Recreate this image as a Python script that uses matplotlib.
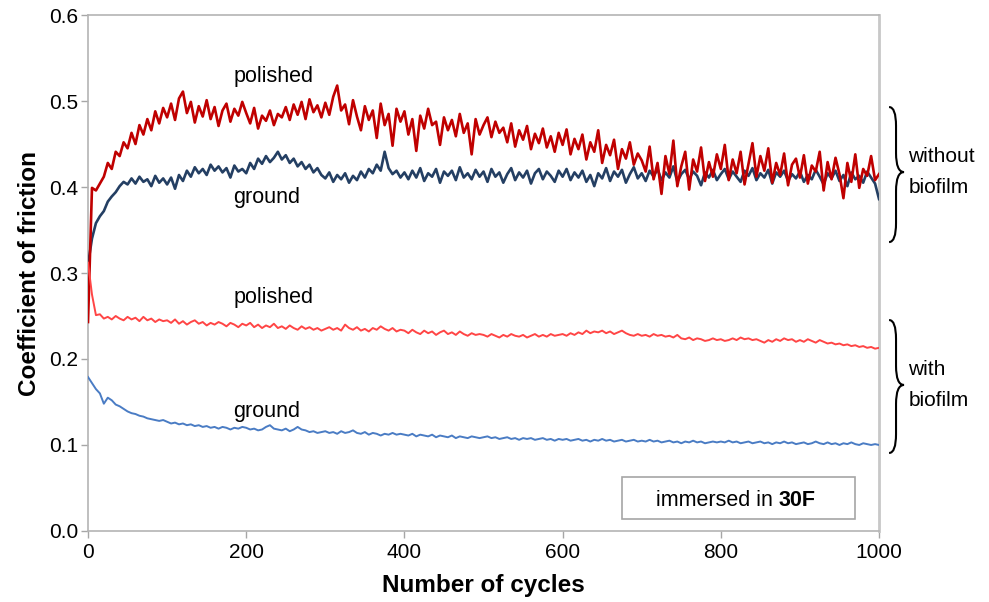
import numpy as np
import matplotlib
matplotlib.use('Agg')
import matplotlib.pyplot as plt
from matplotlib.path import Path
from matplotlib.patches import PathPatch, Rectangle
import matplotlib.transforms as mtransforms

plt.rcParams['font.family'] = ['Liberation Sans', 'DejaVu Sans']

# cycle number of every reading (step 5)
cycles = np.arange(0, 1001, 5)

# polished, without biofilm (dark red)
cof_polished_dry = [
    0.243, 0.399, 0.396, 0.404, 0.412, 0.428, 0.421, 0.441, 0.436, 0.452, 0.445, 0.463, 0.450, 0.472, 0.461, 0.479, 0.466, 0.488, 0.474, 0.492,
    0.481, 0.497, 0.478, 0.503, 0.511, 0.486, 0.499, 0.475, 0.494, 0.482, 0.501, 0.479, 0.493, 0.471, 0.489, 0.497, 0.476, 0.491, 0.483, 0.499,
    0.486, 0.474, 0.492, 0.468, 0.483, 0.477, 0.489, 0.472, 0.485, 0.481, 0.493, 0.478, 0.496, 0.484, 0.499, 0.479, 0.502, 0.487, 0.495, 0.481,
    0.498, 0.484, 0.505, 0.518, 0.489, 0.496, 0.473, 0.501, 0.482, 0.466, 0.494, 0.478, 0.489, 0.457, 0.497, 0.472, 0.485, 0.448, 0.491, 0.476,
    0.488, 0.461, 0.479, 0.442, 0.483, 0.468, 0.491, 0.472, 0.476, 0.449, 0.481, 0.466, 0.478, 0.459, 0.485, 0.463, 0.474, 0.438, 0.479, 0.461,
    0.472, 0.481, 0.458, 0.476, 0.463, 0.469, 0.452, 0.474, 0.447, 0.466, 0.455, 0.471, 0.444, 0.462, 0.451, 0.468, 0.446, 0.459, 0.441, 0.463,
    0.449, 0.467, 0.438, 0.456, 0.444, 0.461, 0.432, 0.452, 0.441, 0.466, 0.428, 0.449, 0.437, 0.455, 0.421, 0.444, 0.433, 0.452, 0.426, 0.439,
    0.431, 0.418, 0.447, 0.409, 0.428, 0.392, 0.436, 0.415, 0.454, 0.401, 0.424, 0.441, 0.397, 0.432, 0.418, 0.446, 0.407, 0.429, 0.412, 0.438,
    0.421, 0.449, 0.408, 0.432, 0.416, 0.441, 0.403, 0.427, 0.451, 0.412, 0.436, 0.419, 0.445, 0.405, 0.428, 0.414, 0.439, 0.402, 0.426, 0.433,
    0.411, 0.437, 0.404, 0.425, 0.418, 0.441, 0.396, 0.429, 0.409, 0.434, 0.415, 0.387, 0.428, 0.406, 0.438, 0.399, 0.421, 0.413, 0.436, 0.408, 0.415,
]

# ground, without biofilm (navy)
cof_ground_dry = [
    0.310, 0.340, 0.358, 0.366, 0.372, 0.383, 0.389, 0.394, 0.401, 0.406, 0.403, 0.410, 0.404, 0.412, 0.406, 0.409, 0.401, 0.413, 0.405, 0.410,
    0.403, 0.411, 0.398, 0.414, 0.407, 0.419, 0.412, 0.423, 0.416, 0.421, 0.414, 0.426, 0.419, 0.424, 0.417, 0.422, 0.411, 0.425, 0.418, 0.421,
    0.416, 0.428, 0.421, 0.433, 0.427, 0.436, 0.429, 0.434, 0.441, 0.432, 0.437, 0.428, 0.433, 0.424, 0.429, 0.421, 0.426, 0.417, 0.422, 0.414,
    0.410, 0.417, 0.406, 0.414, 0.409, 0.416, 0.405, 0.413, 0.408, 0.418, 0.411, 0.421, 0.416, 0.426, 0.419, 0.441, 0.422, 0.415, 0.419, 0.411,
    0.417, 0.409, 0.419, 0.411, 0.422, 0.407, 0.416, 0.412, 0.421, 0.405, 0.418, 0.413, 0.419, 0.408, 0.423, 0.411, 0.416, 0.409, 0.420, 0.412,
    0.418, 0.406, 0.421, 0.412, 0.417, 0.405, 0.415, 0.422, 0.408, 0.417, 0.411, 0.419, 0.404, 0.416, 0.421, 0.409, 0.418, 0.413, 0.406, 0.419,
    0.412, 0.421, 0.408, 0.417, 0.411, 0.419, 0.406, 0.414, 0.401, 0.416, 0.410, 0.422, 0.407, 0.418, 0.412, 0.420, 0.405, 0.415, 0.423, 0.410,
    0.416, 0.407, 0.419, 0.412, 0.421, 0.408, 0.417, 0.411, 0.424, 0.406, 0.415, 0.420, 0.409, 0.418, 0.413, 0.402, 0.417, 0.411, 0.420, 0.408,
    0.415, 0.421, 0.409, 0.418, 0.412, 0.406, 0.419, 0.413, 0.422, 0.408, 0.416, 0.411, 0.420, 0.404, 0.417, 0.412, 0.419, 0.407, 0.415, 0.410,
    0.418, 0.406, 0.414, 0.409, 0.420, 0.412, 0.403, 0.416, 0.410, 0.419, 0.407, 0.414, 0.401, 0.417, 0.409, 0.413, 0.405, 0.418, 0.411, 0.404, 0.386,
]

# polished, with biofilm (light red)
cof_polished_bio = [
    0.312, 0.275, 0.251, 0.252, 0.247, 0.249, 0.246, 0.250, 0.247, 0.245, 0.249, 0.246, 0.248, 0.244, 0.249, 0.245, 0.247, 0.243, 0.246, 0.244,
    0.245, 0.242, 0.246, 0.241, 0.244, 0.240, 0.243, 0.245, 0.241, 0.243, 0.239, 0.242, 0.240, 0.243, 0.241, 0.238, 0.242, 0.240, 0.237, 0.241,
    0.239, 0.242, 0.237, 0.240, 0.236, 0.239, 0.237, 0.241, 0.236, 0.238, 0.235, 0.239, 0.236, 0.234, 0.238, 0.235, 0.237, 0.234, 0.236, 0.233,
    0.235, 0.237, 0.234, 0.236, 0.233, 0.240, 0.236, 0.234, 0.237, 0.233, 0.235, 0.232, 0.236, 0.234, 0.238, 0.235, 0.233, 0.236, 0.232, 0.234,
    0.233, 0.230, 0.234, 0.231, 0.229, 0.233, 0.230, 0.232, 0.228, 0.231, 0.233, 0.229, 0.231, 0.228, 0.232, 0.229, 0.227, 0.230, 0.228, 0.229,
    0.228, 0.226, 0.229, 0.227, 0.225, 0.228, 0.226, 0.229, 0.227, 0.226, 0.228, 0.225, 0.227, 0.229, 0.226, 0.228, 0.226, 0.229, 0.227, 0.228,
    0.229, 0.227, 0.230, 0.228, 0.231, 0.229, 0.233, 0.230, 0.232, 0.231, 0.233, 0.230, 0.232, 0.229, 0.231, 0.233, 0.230, 0.228, 0.227, 0.229,
    0.227, 0.228, 0.226, 0.229, 0.227, 0.228, 0.226, 0.227, 0.225, 0.228, 0.224, 0.223, 0.225, 0.222, 0.224, 0.223, 0.221, 0.222, 0.224, 0.222,
    0.223, 0.221, 0.222, 0.224, 0.222, 0.225, 0.223, 0.224, 0.222, 0.223, 0.221, 0.219, 0.222, 0.220, 0.223, 0.221, 0.224, 0.222, 0.223, 0.220,
    0.222, 0.220, 0.223, 0.221, 0.219, 0.222, 0.220, 0.218, 0.219, 0.217, 0.218, 0.216, 0.217, 0.215, 0.216, 0.214, 0.215, 0.213, 0.214, 0.212, 0.213,
]

# ground, with biofilm (blue)
cof_ground_bio = [
    0.179, 0.172, 0.165, 0.160, 0.148, 0.155, 0.152, 0.147, 0.145, 0.142, 0.139, 0.137, 0.136, 0.134, 0.133, 0.131, 0.130, 0.129, 0.128, 0.129,
    0.127, 0.125, 0.126, 0.124, 0.125, 0.123, 0.124, 0.122, 0.123, 0.121, 0.122, 0.120, 0.121, 0.119, 0.121, 0.120, 0.118, 0.120, 0.119, 0.121,
    0.120, 0.118, 0.119, 0.117, 0.118, 0.121, 0.123, 0.119, 0.118, 0.117, 0.119, 0.116, 0.118, 0.121, 0.118, 0.117, 0.115, 0.116, 0.114, 0.115,
    0.116, 0.114, 0.115, 0.113, 0.116, 0.114, 0.115, 0.117, 0.114, 0.113, 0.115, 0.112, 0.114, 0.113, 0.111, 0.113, 0.112, 0.114, 0.112, 0.113,
    0.112, 0.111, 0.113, 0.110, 0.112, 0.111, 0.110, 0.112, 0.109, 0.111, 0.110, 0.109, 0.111, 0.108, 0.110, 0.109, 0.108, 0.110, 0.109, 0.108,
    0.109, 0.110, 0.108, 0.109, 0.107, 0.108, 0.109, 0.107, 0.108, 0.106, 0.108, 0.107, 0.108, 0.106, 0.107, 0.108, 0.106, 0.107, 0.105, 0.107,
    0.106, 0.107, 0.105, 0.106, 0.107, 0.105, 0.106, 0.104, 0.106, 0.105, 0.107, 0.105, 0.106, 0.104, 0.105, 0.106, 0.104, 0.105, 0.106, 0.104,
    0.105, 0.104, 0.106, 0.104, 0.105, 0.103, 0.104, 0.105, 0.103, 0.104, 0.102, 0.104, 0.103, 0.105, 0.103, 0.104, 0.102, 0.103, 0.104, 0.103,
    0.104, 0.103, 0.105, 0.103, 0.104, 0.102, 0.103, 0.104, 0.102, 0.103, 0.104, 0.102, 0.103, 0.101, 0.103, 0.102, 0.104, 0.102, 0.103, 0.101,
    0.102, 0.103, 0.101, 0.102, 0.104, 0.102, 0.101, 0.103, 0.101, 0.102, 0.100, 0.102, 0.101, 0.103, 0.101, 0.100, 0.102, 0.101, 0.100, 0.101, 0.100,
]

x_ticks = [0, 200, 400, 600, 800, 1000]
y_ticks = [0.0, 0.1, 0.2, 0.3, 0.4, 0.5, 0.6]

# curve labels: (text, cycle, cof)
curve_labels = [('polished', 234, 0.528), ('ground', 226, 0.388),
                ('polished', 234, 0.272), ('ground', 226, 0.1395)]
# braces: (top cof, tip cof, bottom cof, text)
braces = [(0.493, 0.4174, 0.336, 'without\nbiofilm'),
          (0.2453, 0.1698, 0.0907, 'with\nbiofilm')]

fig = plt.figure(figsize=(9.89, 6.02), dpi=100)
ax = fig.add_axes([0.089, 0.118, 0.7998, 0.857])

ax.plot(cycles, cof_ground_dry, color='#243F63', lw=1.9, zorder=3)
ax.plot(cycles, cof_polished_dry, color='#C00000', lw=1.9, zorder=4)
ax.plot(cycles, cof_ground_bio, color='#4A7CC4', lw=1.4, zorder=3)
ax.plot(cycles, cof_polished_bio, color='#FF4545', lw=1.4, zorder=5)

ax.set_xlim(0, 1000)
ax.set_ylim(0, 0.6)
ax.set_xticks(x_ticks)
ax.set_yticks(y_ticks)
ax.set_yticklabels([f'{v:.1f}' for v in y_ticks])
ax.tick_params(axis='both', labelsize=15, colors='#A6A6A6', labelcolor='black',
               length=5, width=1)
ax.tick_params(axis='y', pad=2)
ax.tick_params(axis='x', pad=4)

for s in ['left', 'bottom', 'top']:
    ax.spines[s].set_color('#B4B4B4')
    ax.spines[s].set_linewidth(1.2)
ax.spines['right'].set_color('#C8C8C8')
ax.spines['right'].set_linewidth(2)

ax.set_xlabel('Number of cycles', fontsize=17.5, fontweight='bold')
ax.set_ylabel('Coefficient of friction', fontsize=17.5, fontweight='bold')
ax.xaxis.set_label_coords(0.5, -0.083)
ax.yaxis.set_label_coords(-0.059, 0.5)

for txt, cx, cy in curve_labels:
    ax.text(cx, cy, txt, fontsize=15.5, ha='center', va='center')

# curly braces on the right, outside the axes
trans = mtransforms.blended_transform_factory(ax.transAxes, ax.transData)
x_end, x_stem, x_tip = 1.0127, 1.0215, 1.0316
r = 0.022
for top, mid, bot, txt in braces:
    verts = [(x_end, top), (x_stem, top), (x_stem, top - r),
             (x_stem, mid + r),
             (x_stem, mid), (x_tip, mid),
             (x_stem, mid), (x_stem, mid - r),
             (x_stem, bot + r),
             (x_stem, bot), (x_end, bot)]
    codes = [Path.MOVETO, Path.CURVE3, Path.CURVE3,
             Path.LINETO,
             Path.CURVE3, Path.CURVE3,
             Path.CURVE3, Path.CURVE3,
             Path.LINETO,
             Path.CURVE3, Path.CURVE3]
    ax.add_patch(PathPatch(Path(verts, codes), transform=trans, fill=False,
                           lw=1.5, color='black', clip_on=False))
    ax.text(1.037, mid, txt, transform=trans, fontsize=15, ha='left',
            va='center', linespacing=1.8)

# annotation box
ax.add_patch(Rectangle((0.675, 0.0233), 0.2947, 0.0814, transform=ax.transAxes,
                       fill=False, edgecolor='#A6A6A6', lw=1.2, zorder=6))
ax.text(0.8736, 0.060, 'immersed in ', transform=ax.transAxes, fontsize=15.5,
        ha='right', va='center', zorder=7)
ax.text(0.8736, 0.060, '30F', transform=ax.transAxes, fontsize=15.5,
        fontweight='bold', ha='left', va='center', zorder=7)

fig.savefig('out.png', dpi=100)
